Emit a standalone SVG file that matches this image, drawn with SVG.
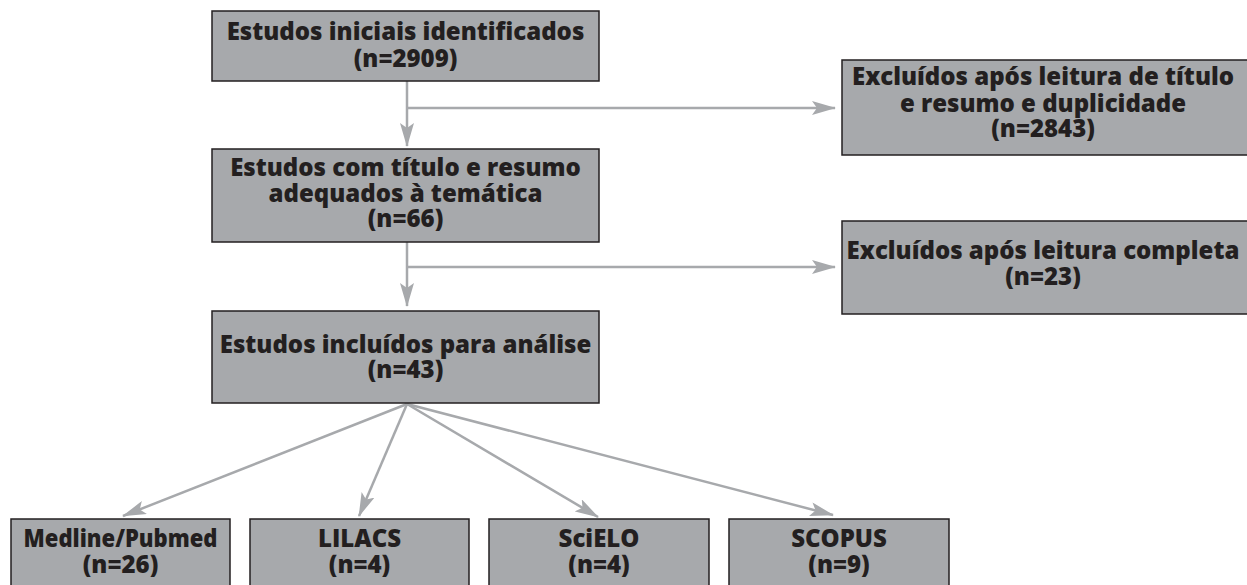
<svg xmlns="http://www.w3.org/2000/svg" width="1247" height="585" viewBox="0 0 1247 585">
<defs>
<style>
.box{fill:#a7a9ac;stroke:#231f20;stroke-width:1.5}
.t{font-family:"Open Sans","Liberation Sans",sans-serif;font-weight:800;font-size:24px;fill:#231f20;text-anchor:middle}
.c{fill:none;stroke:#a7a9ac;stroke-width:2.5}
</style>
<marker id="ah" markerUnits="userSpaceOnUse" markerWidth="24" markerHeight="14" viewBox="0 0 24 14" refX="23" refY="7" orient="auto">
<path d="M0,0 L24,7 L0,14 L5,7 z" fill="#a7a9ac"/>
</marker>
</defs>
<rect width="1247" height="585" fill="#ffffff"/>
<g id="connectors">
<line class="c" x1="407" y1="81" x2="407" y2="146" marker-end="url(#ah)"/>
<line class="c" x1="407" y1="108" x2="835" y2="108" marker-end="url(#ah)"/>
<line class="c" x1="407" y1="242" x2="407" y2="306" marker-end="url(#ah)"/>
<line class="c" x1="407" y1="267" x2="835" y2="267" marker-end="url(#ah)"/>
<line class="c" x1="407" y1="404" x2="123" y2="516" marker-end="url(#ah)"/>
<line class="c" x1="407" y1="404" x2="359" y2="516" marker-end="url(#ah)"/>
<line class="c" x1="407" y1="404" x2="598" y2="517" marker-end="url(#ah)"/>
<line class="c" x1="407" y1="404" x2="833" y2="515" marker-end="url(#ah)"/>
</g>
<g id="n1">
<rect class="box" x="212" y="11" width="387" height="70"/>
<text class="t" x="405.5" y="40">Estudos iniciais identificados</text>
<text class="t" x="405.5" y="67">(n=2909)</text>
</g>
<g id="n2">
<rect class="box" x="212" y="149" width="387" height="93"/>
<text class="t" x="405.5" y="176">Estudos com título e resumo</text>
<text class="t" x="405.5" y="202">adequados à temática</text>
<text class="t" x="405.5" y="227">(n=66)</text>
</g>
<g id="n3">
<rect class="box" x="212" y="311" width="387" height="92"/>
<text class="t" x="405.5" y="353">Estudos incluídos para análise</text>
<text class="t" x="405.5" y="378">(n=43)</text>
</g>
<g id="e1">
<rect class="box" x="842" y="60" width="410" height="95"/>
<text class="t" x="1043" y="85">Excluídos após leitura de título</text>
<text class="t" x="1043" y="112">e resumo e duplicidade</text>
<text class="t" x="1043" y="137">(n=2843)</text>
</g>
<g id="e2">
<rect class="box" x="842" y="221" width="410" height="93"/>
<text class="t" x="1043" y="259">Excluídos após leitura completa</text>
<text class="t" x="1043" y="285">(n=23)</text>
</g>
<g id="b1">
<rect class="box" x="11" y="519" width="219" height="80"/>
<text class="t" x="120.5" y="547" textLength="194" lengthAdjust="spacingAndGlyphs">Medline/Pubmed</text>
<text class="t" x="120.5" y="573">(n=26)</text>
</g>
<g id="b2">
<rect class="box" x="250" y="519" width="219" height="80"/>
<text class="t" x="359.5" y="547">LILACS</text>
<text class="t" x="359.5" y="573">(n=4)</text>
</g>
<g id="b3">
<rect class="box" x="489" y="519" width="220" height="80"/>
<text class="t" x="599" y="547">SciELO</text>
<text class="t" x="599" y="573">(n=4)</text>
</g>
<g id="b4">
<rect class="box" x="729" y="519" width="220" height="80"/>
<text class="t" x="839" y="547">SCOPUS</text>
<text class="t" x="839" y="573">(n=9)</text>
</g>
</svg>
